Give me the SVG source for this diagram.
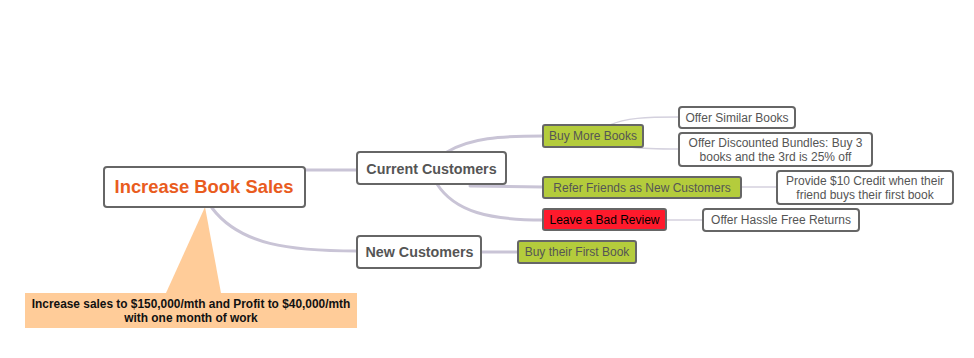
<svg xmlns="http://www.w3.org/2000/svg" width="974" height="358" viewBox="0 0 974 358">
<style>
.box{fill:#fff;stroke:#666;stroke-width:2}
.grn{fill:#B4CC3C;stroke:#666;stroke-width:2}
.red{fill:#FF1A2C;stroke:#666;stroke-width:2}
.c1{fill:none;stroke:#C9C4D6;stroke-width:3;stroke-linecap:round}
.c2{fill:none;stroke:#D4D1DE;stroke-width:1.5}
text{font-family:"Liberation Sans",Arial,sans-serif;text-anchor:middle}
.t1{font-size:14.3px;font-weight:bold;fill:#555}
.t2{font-size:12px;fill:#555}
.t3{font-size:12px;fill:#555}
</style>
<rect width="974" height="358" fill="#fff"/>
<g id="connectors">
<path class="c1" d="M305 170 L357 170"/>
<path class="c1" d="M212 208 C240 245 290 251 357 251"/>
<path class="c1" d="M447 152 C470 138 500 136 543 136"/>
<path class="c1" d="M470 186 L543 187"/>
<path class="c1" d="M437 184 C455 212 490 220 543 220"/>
<path class="c1" d="M481 252 L518 252"/>
<path class="c2" d="M610 125 C625 118 645 117 679 117"/>
<path class="c2" d="M630 147 C645 149 660 149 679 149"/>
<path class="c2" d="M741 187 L777 187"/>
<path class="c2" d="M666 220 L703 220"/>
</g>
<g id="callout">
<polygon points="205,207 166,293 221,293" fill="#FFCC99"/>
<rect x="25" y="293" width="332" height="35" fill="#FFCC99"/>
<text x="191" y="308" style="font-size:11.9px;font-weight:bold;fill:#111">Increase sales to $150,000/mth and Profit to $40,000/mth</text>
<text x="191" y="322" style="font-size:11.9px;font-weight:bold;fill:#111">with one month of work</text>
</g>
<g id="main">
<rect class="box" x="104" y="167" width="201" height="40" rx="3"/>
<text x="204" y="193" style="font-size:18.4px;font-weight:bold;fill:#E95C1E">Increase Book Sales</text>
</g>
<g id="current">
<rect class="box" x="357" y="152" width="149" height="32" rx="3"/>
<text x="431.5" y="174" class="t1">Current Customers</text>
</g>
<g id="new">
<rect class="box" x="357" y="236" width="124" height="32" rx="3"/>
<text x="419.5" y="257" class="t1">New Customers</text>
</g>
<g id="buymore">
<rect class="grn" x="543" y="125" width="100" height="22" rx="2"/>
<text x="593" y="140" class="t2">Buy More Books</text>
</g>
<g id="refer">
<rect class="grn" x="543" y="177" width="198" height="21" rx="2"/>
<text x="642" y="192" class="t2">Refer Friends as New Customers</text>
</g>
<g id="leave">
<rect class="red" x="543" y="209" width="123" height="21" rx="2"/>
<text x="604.5" y="224" style="font-size:12px;fill:#000">Leave a Bad Review</text>
</g>
<g id="buyfirst">
<rect class="grn" x="518" y="241" width="118" height="22" rx="2"/>
<text x="577" y="256" class="t2">Buy their First Book</text>
</g>
<g id="similar">
<rect class="box" x="679" y="107" width="116" height="21" rx="3"/>
<text x="737" y="122" class="t3">Offer Similar Books</text>
</g>
<g id="bundles">
<rect class="box" x="679" y="133" width="193" height="33" rx="3"/>
<text x="775.5" y="147" class="t3">Offer Discounted Bundles: Buy 3</text>
<text x="775.5" y="161" class="t3">books and the 3rd is 25% off</text>
</g>
<g id="credit">
<rect class="box" x="777" y="171" width="176" height="33" rx="3"/>
<text x="865" y="185" class="t3">Provide $10 Credit when their</text>
<text x="865" y="199" class="t3">friend buys their first book</text>
</g>
<g id="returns">
<rect class="box" x="703" y="209" width="156" height="22" rx="3"/>
<text x="781" y="224" class="t3">Offer Hassle Free Returns</text>
</g>
</svg>
